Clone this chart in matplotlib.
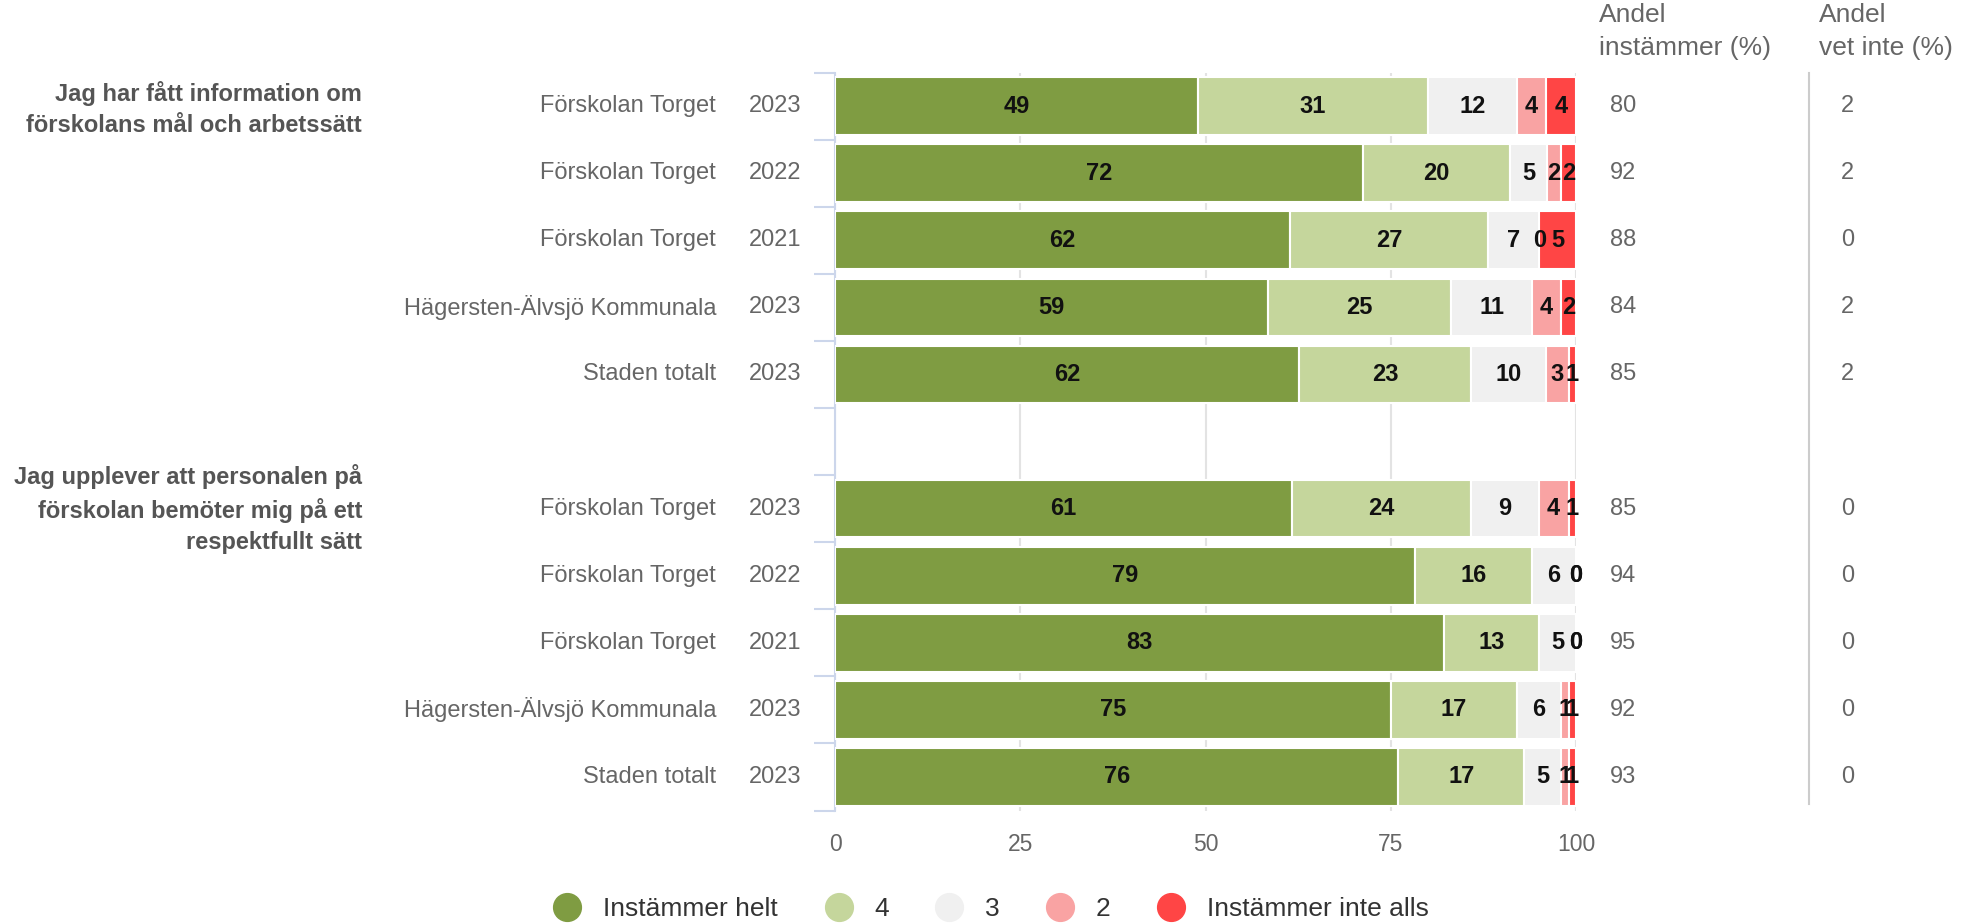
import matplotlib.pyplot as plt
from matplotlib.lines import Line2D
from matplotlib.transforms import blended_transform_factory

plt.rcParams['font.family'] = ['Liberation Sans', 'DejaVu Sans']

# Frågor (en per grupp)
fragor = ["Jag har fått information om\nförskolans mål och arbetssätt",
          "Jag upplever att personalen på\nförskolan bemöter mig på ett\nrespektfullt sätt"]

enheter = ["Förskolan Torget", "Förskolan Torget", "Förskolan Torget",
           "Hägersten-Älvsjö Kommunala", "Staden totalt"]
ar = ["2023", "2022", "2021", "2023", "2023"]

serier = ["Instämmer helt", "4", "3", "2", "Instämmer inte alls"]
farger = ["#7f9c42", "#c5d69c", "#f0f0f0", "#f9a3a3", "#ff4545"]

# Andelar per rad (%), fråga 1 och fråga 2
varden_1 = [[49, 31, 12, 4, 4],
            [72, 20, 5, 2, 2],
            [62, 27, 7, 0, 5],
            [59, 25, 11, 4, 2],
            [62, 23, 10, 3, 1]]
varden_2 = [[61, 24, 9, 4, 1],
            [79, 16, 6, 0, 0],
            [83, 13, 5, 0, 0],
            [75, 17, 6, 1, 1],
            [76, 17, 5, 1, 1]]

instammer_1 = [80, 92, 88, 84, 85]
instammer_2 = [85, 94, 95, 92, 93]
vet_inte_1 = [2, 2, 0, 2, 2]
vet_inte_2 = [0, 0, 0, 0, 0]

fig = plt.figure(figsize=(19.7, 9.24), dpi=100)
ax = fig.add_axes([0.4239, 0.1228, 0.8 - 0.4239, 0.9215 - 0.1228])

rader = [0, 1, 2, 3, 4, 6, 7, 8, 9, 10]
alla_varden = varden_1 + varden_2
alla_inst = instammer_1 + instammer_2
alla_vet = vet_inte_1 + vet_inte_2

for y, rad in zip(rader, alla_varden):
    summa = sum(rad)
    vanster = 0
    for v, f in zip(rad, farger):
        bredd = v / summa * 100
        ax.barh(y, bredd, left=vanster, height=0.86, color=f,
                edgecolor="white", linewidth=1.5, zorder=3)
        ax.text(vanster + bredd / 2, y, str(v), ha="center", va="center",
                fontsize=17, fontweight="bold", color="#111111", zorder=4)
        vanster += bredd

ax.set_xlim(0, 100)
ax.set_ylim(10.5, -0.5)
ax.set_xticks([0, 25, 50, 75, 100])
ax.tick_params(axis="x", length=0, labelsize=16.5, labelcolor="#666666", pad=16)
ax.set_yticks([])
ax.set_yticks([i - 0.5 for i in range(12)], minor=True)
ax.tick_params(axis="y", which="minor", length=15, width=1.5, color="#ccd6eb")
ax.grid(axis="x", color="#e3e3e3", linewidth=1.5, zorder=0)
for s in ["top", "right", "bottom"]:
    ax.spines[s].set_visible(False)
ax.spines["left"].set_color("#ccd6eb")
ax.spines["left"].set_linewidth(1.5)

tr = blended_transform_factory(fig.transFigure, ax.transData)
for y, enhet, a, inst, vet in zip(rader, enheter + enheter, ar + ar, alla_inst, alla_vet):
    ax.text(0.3635, y, enhet, transform=tr, ha="right", va="center",
            fontsize=17, color="#666666")
    ax.text(0.4066, y, a, transform=tr, ha="right", va="center",
            fontsize=17, color="#666666")
    ax.text(0.8173, y, str(inst), transform=tr, ha="left", va="center",
            fontsize=17, color="#666666")
    ax.text(0.9345, y, str(vet), transform=tr, ha="left", va="center",
            fontsize=17, color="#666666")

for y, fraga in zip([0.05, 6], fragor):
    ax.text(0.1838, y, fraga, transform=tr, ha="right", va="center",
            fontsize=17, fontweight="bold", color="#555555", linespacing=1.45)

# Kolumnrubriker
fig.text(0.8117, 0.997, "Andel\ninstämmer (%)", ha="left", va="top",
         fontsize=19, color="#666666", linespacing=1.5)
fig.text(0.9234, 0.997, "Andel\nvet inte (%)", ha="left", va="top",
         fontsize=19, color="#666666", linespacing=1.5)
fig.add_artist(Line2D([0.9183, 0.9183], [1 - 73 / 924, 1 - 804 / 924],
                      transform=fig.transFigure, color="#cccccc", linewidth=1.5))

# Legend
handtag = [Line2D([], [], marker="o", linestyle="", markersize=20,
                  markerfacecolor=f, markeredgecolor=f) for f in farger]
fig.legend(handtag, serier, loc="center", bbox_to_anchor=(0.5, 1 - 909 / 924),
           ncol=5, frameon=False, fontsize=19, handletextpad=0.35,
           columnspacing=1.3, labelcolor="#333333")

fig.savefig("out.png", dpi=100)
